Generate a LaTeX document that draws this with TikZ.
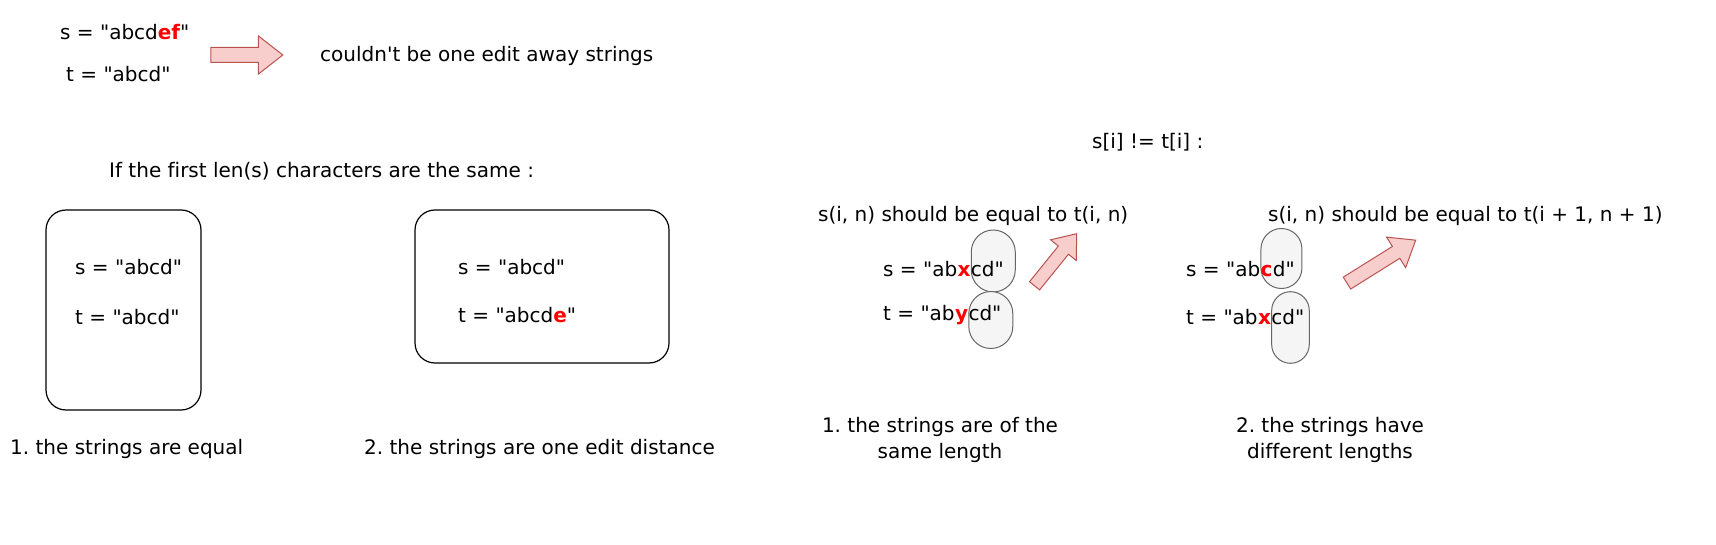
\documentclass[tikz,border=0pt]{standalone}
\usepackage{fontspec}
\newfontfamily\plainsans{DejaVu Sans}[Ligatures=NoCommon]
\usepackage{tikz}
\usetikzlibrary{shapes.arrows, positioning, backgrounds}
\definecolor{arrowfill}{HTML}{F8CECC}
\definecolor{arrowline}{HTML}{B85450}
\definecolor{capfill}{HTML}{F5F5F5}
\definecolor{capline}{HTML}{666666}
\definecolor{diffred}{HTML}{FF0000}
\tikzstyle{txt} = [font=\plainsans\fontsize{20}{26}\selectfont, inner sep=0pt, anchor=base west]
\tikzstyle{hl} = [txt, text=diffred, font=\plainsans\fontsize{20}{26}\selectfont\bfseries]
\tikzstyle{casebox} = [rectangle, rounded corners=20pt, draw=black, line width=1.2pt]
\tikzstyle{capsule} = [rectangle, anchor=west, fill=capfill, draw=capline, line width=1pt]
\tikzstyle{bigarrow} = [single arrow, inner sep=0pt, single arrow head indent=0pt, single arrow tip angle=76, fill=arrowfill, draw=arrowline, line width=1pt]

\begin{document}
\frenchspacing
\begin{tikzpicture}[x=1pt, y=-1pt]
            \useasboundingbox (0,0) rectangle (1716,545);
            % Top: too long
            \node (topS) [txt] at (60,40) {s = "abcd\textcolor{diffred}{\bfseries ef}"};
            \node (topT) [txt] at (66,82) {t = "abcd"};
            \node (topArrow) [bigarrow, minimum height=72pt, inner ysep=7pt, single arrow head extend=11.5pt] at (242,55) {};
            \node (verdict) [txt] at (320,62) {couldn't be one edit away strings};

            % Left half
            \node (cond) [txt] at (109,178) {If the first len(s) characters are the same :};
            \node (box1) [casebox, minimum width=155pt, minimum height=200pt] at (123.5,310) {};
            \node (b1s) [txt] at (75,275) {s = "abcd"};
            \node (b1t) [txt] at (75,324) {t = "abcd"};
            \node (box2) [casebox, minimum width=254pt, minimum height=153pt] at (542,286.5) {};
            \node (b2s) [txt] at (458,275) {s = "abcd"};
            \node (b2t) [txt] at (458,323) {t = "abcd\textcolor{diffred}{\bfseries e}"};
            \node (lab1) [txt] at (10,454) {1. the strings are equal};
            \node (lab2) [txt] at (364,454) {2. the strings are one edit distance};

            % Right half
            \node (neq) [txt] at (1092,149) {s[i] != t[i] :};
            \node (same) [txt] at (818,222) {s(i, n) should be equal to t(i, n)};
            \node (sL) [txt] at (883,277) {s = "ab};
            \node (sLx) [hl] at (sL.base east) {x};
            \node (sLcd) [txt] at (sLx.base east) {cd"};
            \node (tL) [txt] at (883,320) {t = "ab};
            \node (tLy) [hl] at (tL.base east) {y};
            \node (tLcd) [txt] at (tLy.base east) {cd"};
            \node (arrowL) [bigarrow, rotate=51, minimum height=67pt, inner ysep=6pt, single arrow head extend=10pt] at (1053,263) {};

            \node (diff) [txt] at (1268,222) {s(i, n) should be equal to t(i + 1, n + 1)};
            \node (sR) [txt] at (1186,277) {s = "ab};
            \node (sRc) [hl] at (sR.base east) {c};
            \node (sRd) [txt] at (sRc.base east) {d"};
            \node (tR) [txt] at (1186,324) {t = "ab};
            \node (tRx) [hl] at (tR.base east) {x};
            \node (tRcd) [txt] at (tRx.base east) {cd"};
            \node (arrowR) [bigarrow, rotate=32, minimum height=81pt, inner ysep=6.5pt, single arrow head extend=11pt] at (1377.5,264) {};

            \node (lab3) [txt, anchor=center, align=center] at (940,440) {1. the strings are of the\\same length};
            \node (lab4) [txt, anchor=center, align=center] at (1330,440) {2. the strings have\\different lengths};

            % Capsules behind the text
            \begin{scope}[on background layer]
                \node (capSL) [capsule, minimum width=44pt, minimum height=62pt, rounded corners=22pt] at ([yshift=16pt]sLx.base east) {};
                \node (capTL) [capsule, minimum width=44pt, minimum height=57pt, rounded corners=22pt] at (tLy.base east) {};
                \node (capSR) [capsule, minimum width=41pt, minimum height=60pt, rounded corners=20.5pt] at ([yshift=18.5pt]sRc.base west) {};
                \node (capTR) [capsule, minimum width=37.6pt, minimum height=71.6pt, rounded corners=18.8pt] at ([yshift=-3.5pt]tRx.base east) {};
            \end{scope}
        \end{tikzpicture}
\end{document}
